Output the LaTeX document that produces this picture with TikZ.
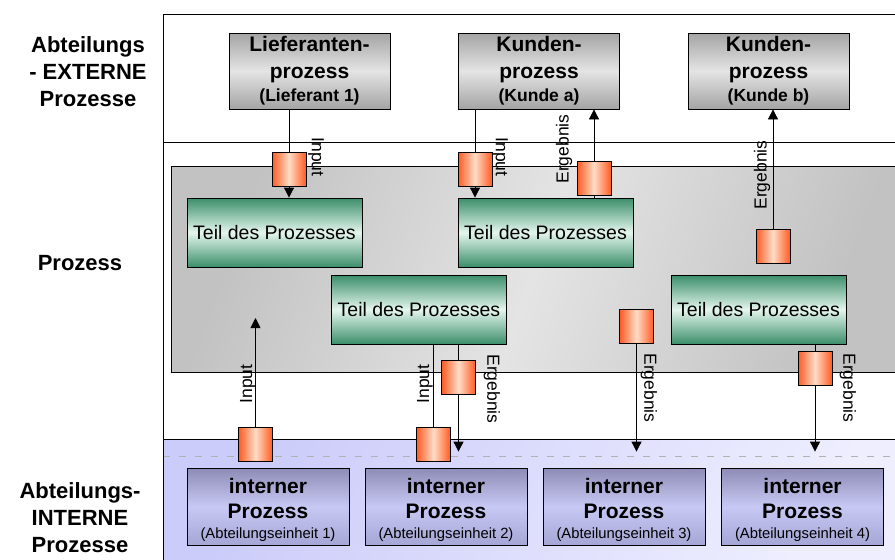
\documentclass[tikz,border=0pt]{standalone}
\usepackage{fontspec}
\setmainfont{Liberation Sans}
\usetikzlibrary{arrows.meta}
\definecolor{extdark}{HTML}{A4A4A4}
\definecolor{extlight}{HTML}{E4E4E4}
\definecolor{teildark}{HTML}{3A8E6A}
\definecolor{teillight}{HTML}{E4F6EC}
\definecolor{docdark}{HTML}{FF5B22}
\definecolor{doclight}{HTML}{FFDCC6}
\definecolor{areadark}{HTML}{C2C2C2}
\definecolor{arealight}{HTML}{E4E4E4}
\definecolor{bluetop}{HTML}{8C8CB6}
\definecolor{bluemid}{HTML}{C8C8F4}
\definecolor{bluebot}{HTML}{A6A6D6}
\definecolor{bandleft}{HTML}{CCCCFA}
\definecolor{bandright}{HTML}{EEEEFF}
\begin{document}
\begin{tikzpicture}[x=1pt, y=-1pt]
    \tikzstyle{extern} = [rectangle, draw, line width=0.8pt, minimum width=161pt, minimum height=76pt, inner sep=0pt, align=center, top color=extdark, bottom color=extdark, middle color=extlight, font=\fontsize{21}{27}\selectfont\bfseries]
    \tikzstyle{teil} = [rectangle, draw, line width=0.8pt, minimum width=175pt, minimum height=69pt, inner sep=0pt, top color=teildark, bottom color=teildark, middle color=teillight, font=\fontsize{19.5}{22}\selectfont]
    \tikzstyle{intern} = [rectangle, draw, line width=0.8pt, minimum width=162pt, minimum height=77pt, inner sep=0pt, align=center, top color=bluetop, bottom color=bluebot, middle color=bluemid, font=\fontsize{21}{25}\selectfont\bfseries]
    \tikzstyle{doc} = [rectangle, draw, line width=0.8pt, minimum size=34pt, inner sep=0pt, left color=docdark, right color=docdark, middle color=doclight]
    \tikzstyle{lbl} = [inner sep=0pt, font=\fontsize{17.5}{20}\selectfont]
    \tikzstyle{side} = [inner sep=0pt, align=center, font=\fontsize{22}{27}\selectfont\bfseries]
    \tikzstyle{line} = [line width=0.8pt]
    \tikzstyle{arrow} = [line width=0.8pt, -{Triangle[length=10pt,width=10pt]}]
    \newcommand{\unit}[1]{\rule{0pt}{22pt}interner\\Prozess\\[-5pt]{\fontsize{14.8}{17}\selectfont\mdseries (Abteilungseinheit #1)}}

    \useasboundingbox (0,0) rectangle (895,560);
    \clip (0,0) rectangle (895,560);

    % bands
    \shade[left color=bandleft, right color=bandright, shading angle=60] (163,439) rectangle (900,565);
    \draw[line] (163,439) -- (900,439);
    \draw[gray!60, dash pattern=on 7pt off 9pt] (163,456) -- (900,456);
    \draw[line] (163,565) -- (163,14) -- (900,14);
    \draw[line] (163,142) -- (900,142);
    \shade[draw, line width=0.8pt, left color=areadark, right color=areadark, middle color=arealight, shading angle=70] (171,166) rectangle (900,372);

    % side titles
    \node (titleExt) [side] at (88,72) {Abteilungs\\- EXTERNE\\Prozesse};
    \node (titleProz) [side, anchor=base] at (80,270) {Prozess};
    \node (titleInt) [side] at (80,518) {Abteilungs-\\INTERNE\\Prozesse};

    % process boxes
    \node (lief) [extern] at (309.5,71) {Lieferanten-\\prozess\\[-4pt]{\fontsize{17.5}{20}\selectfont (Lieferant 1)}};
    \node (kundeA) [extern] at (539,71) {Kunden-\\prozess\\[-4pt]{\fontsize{17.5}{20}\selectfont (Kunde a)}};
    \node (kundeB) [extern] at (768.5,71) {Kunden-\\prozess\\[-4pt]{\fontsize{17.5}{20}\selectfont (Kunde b)}};
    \node (teilA) [teil] at (274.5,232.5) {Teil des Prozesses};
    \node (teilB) [teil] at (545.5,232.5) {Teil des Prozesses};
    \node (teilC) [teil] at (419,309.5) {Teil des Prozesses};
    \node (teilD) [teil] at (758.5,309.5) {Teil des Prozesses};
    \node (einheit1) [intern] at (268,506.5) {\unit{1}};
    \node (einheit2) [intern] at (446,506.5) {\unit{2}};
    \node (einheit3) [intern] at (624,506.5) {\unit{3}};
    \node (einheit4) [intern] at (802.5,506.5) {\unit{4}};

    % documents
    \node (inA) [doc] at (289,169) {};
    \node (inB) [doc] at (475,169) {};
    \node (ergA) [doc] at (594,178.5) {};
    \node (ergB) [doc] at (773,246) {};
    \node (ergC) [doc] at (636.5,326.5) {};
    \node (ergD) [doc] at (815,368.5) {};
    \node (ergE) [doc] at (458.5,377.5) {};
    \node (inC) [doc] at (433.5,444.5) {};
    \node (inD) [doc] at (255.5,444.5) {};
    \coordinate (tipD) at (255.5,318);

    % flows
    \draw [line] (inA.north |- lief.south) -- (inA.north);
    \draw [arrow] (inA.south) -- (inA.south |- teilA.north);
    \draw [line] (inB.north |- kundeA.south) -- (inB.north);
    \draw [arrow] (inB.south) -- (inB.south |- teilB.north);
    \draw [line] (ergA.south) -- (ergA.south |- teilB.north);
    \draw [arrow] (ergA.north) -- (ergA.north |- kundeA.south);
    \draw [arrow] (ergB.north) -- (ergB.north |- kundeB.south);
    \draw [arrow, shorten >=16pt] (ergC.south) -- (ergC.south |- einheit3.north);
    \draw [line] (ergD.north |- teilD.south) -- (ergD.north);
    \draw [arrow, shorten >=16pt] (ergD.south) -- (ergD.south |- einheit4.north);
    \draw [line] (ergE.north |- teilC.south) -- (ergE.north);
    \draw [arrow, shorten >=16pt] (ergE.south) -- (ergE.south |- einheit2.north);
    \draw [line] (inC.north) -- (inC.north |- teilC.south);
    \draw [arrow] (inD.north) -- (tipD);

    % flow labels
    \node [lbl, rotate=-90] at (316,157) {Input};
    \node [lbl, rotate=-90] at (500,157) {Input};
    \node [lbl, rotate=90] at (564,149) {Ergebnis};
    \node [lbl, rotate=90] at (762,175) {Ergebnis};
    \node [lbl, rotate=-90] at (649,388) {Ergebnis};
    \node [lbl, rotate=-90] at (848,388) {Ergebnis};
    \node [lbl, rotate=-90] at (492,389) {Ergebnis};
    \node [lbl, rotate=90] at (425,384) {Input};
    \node [lbl, rotate=90] at (248,384) {Input};
\end{tikzpicture}
\end{document}
